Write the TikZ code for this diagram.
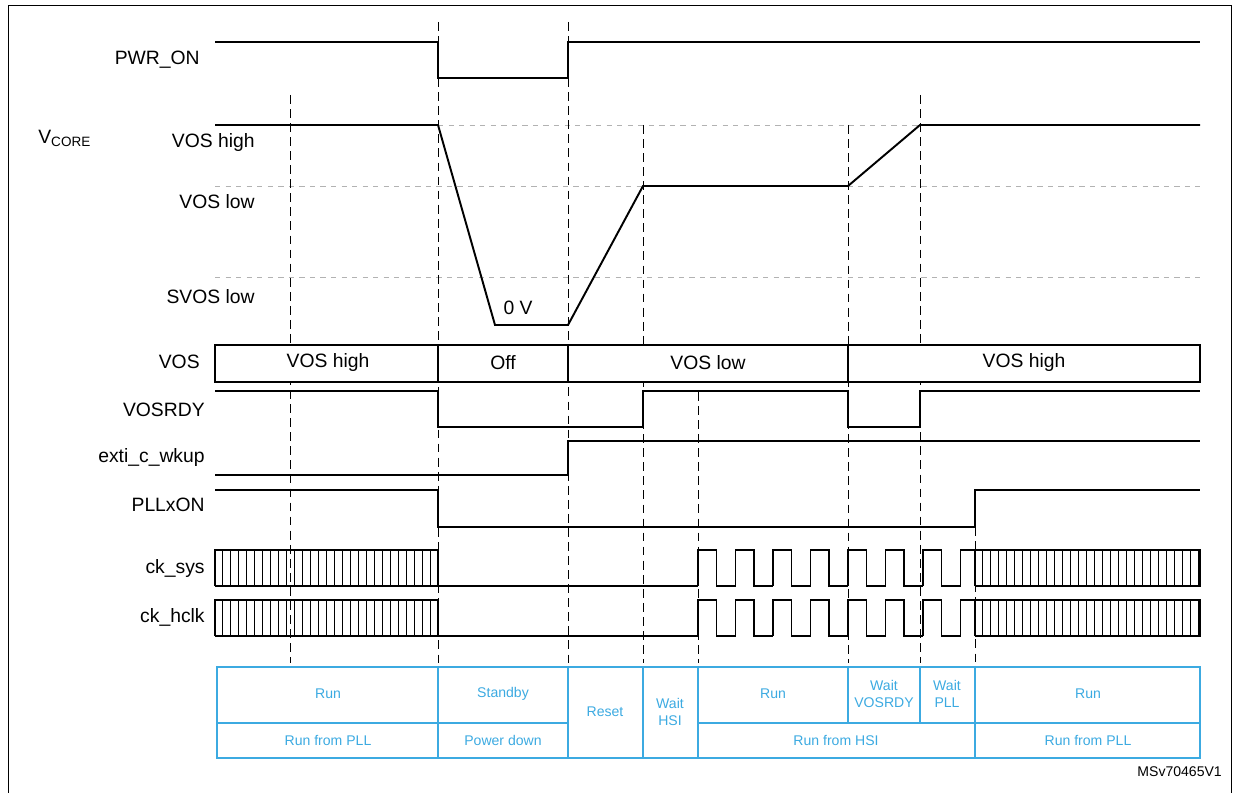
\documentclass[tikz,border=0pt]{standalone}
\usepackage{fontspec}
\setmainfont{Liberation Sans}
\usetikzlibrary{positioning}
\definecolor{tabblue}{RGB}{60,170,225}
\begin{document}
\begin{tikzpicture}[x=0.02cm,y=-0.02cm]
	\tikzstyle{sig}=[line width=1.1pt,black]
	\tikzstyle{tmark}=[thin,black,dash pattern=on 5pt off 3pt]
	\tikzstyle{level}=[dashed,gray!60,very thin]
	\tikzstyle{lbl}=[anchor=east,font=\fontsize{11}{13}\selectfont,inner sep=0pt]
	\tikzstyle{bus}=[font=\fontsize{11}{13}\selectfont]
	\tikzstyle{cell}=[draw=tabblue,line width=.8pt]
	\tikzstyle{celltxt}=[text=tabblue,font=\fontsize{8}{9.5}\selectfont,align=center]

	\useasboundingbox (0,0) rectangle (1239,793);
	\draw[thin] (8,5) rectangle (1231,800);

	% level guides
	\draw[level] (438,125) -- (1200,125);
	\draw[level] (215,186) -- (1200,186);
	\draw[level] (215,277) -- (1200,277);

	% time marks
	\draw[tmark] (290,95) -- (290,663);
	\draw[tmark] (438,22) -- (438,663);
	\draw[tmark] (568,22) -- (568,663);
	\draw[tmark] (643,125) -- (643,663);
	\draw[tmark] (698,392) -- (698,663);
	\draw[tmark] (848,125) -- (848,663);
	\draw[tmark] (920,95) -- (920,663);
	\draw[tmark] (975,527) -- (975,663);

	% labels
	\node[lbl] (pwr) at (200,60) {PWR\_ON};
	\node[anchor=west,font=\fontsize{11}{13}\selectfont,inner sep=0pt] (vcore) at (38,138) {V\textsubscript{CORE}};
	\node[lbl] (vhi) at (255,143) {VOS high};
	\node[lbl] (vlo) at (255,202) {VOS low};
	\node[lbl] (svlo) at (255,297) {SVOS low};
	\node[lbl] (vos) at (200,362) {VOS};
	\node[lbl] (rdy) at (205,410) {VOSRDY};
	\node[lbl] (exti) at (205,458) {exti\_c\_wkup};
	\node[lbl] (pll) at (205,505) {PLLxON};
	\node[lbl] (cks) at (205,568) {ck\_sys};
	\node[lbl] (ckh) at (205,617) {ck\_hclk};

	% PWR_ON
	\draw[sig] (215,42) -- (438,42) -- (438,78) -- (568,78) -- (568,42) -- (1200,42);
	% VCORE
	\draw[sig] (215,125) -- (438,125) -- (495,325) -- (568,325) -- (643,186)
		-- (848,186) -- (920,125) -- (1200,125);
	\node[bus] (zero) at (518,308) {0 V};
	% VOS bus
	\draw[sig,fill=white] (215,345) rectangle (1200,382);
	\foreach \x in {438,568,848} \draw[sig] (\x,345) -- (\x,382);
	\node[bus] (v1) at (328,363) {VOS high};
	\node[bus] (v2) at (503,363) {Off};
	\node[bus] (v3) at (708,363) {VOS low};
	\node[bus] (v4) at (1024,363) {VOS high};
	% VOSRDY
	\draw[sig] (215,391) -- (438,391) -- (438,427) -- (643,427) -- (643,391) -- (848,391)
		-- (848,427) -- (920,427) -- (920,391) -- (1200,391);
	% exti_c_wkup
	\draw[sig] (215,475) -- (568,475) -- (568,441) -- (1200,441);
	% PLLxON
	\draw[sig] (215,490) -- (438,490) -- (438,527) -- (975,527) -- (975,490) -- (1200,490);

	% clocks
	\foreach \t/\b in {550/586,600/636}{
		\draw[sig] (215,\b) -- (215,\t) -- (438,\t) -- (438,\b) -- (215,\b);
		\foreach \x in {222,230,...,436} \draw[thin] (\x,\t) -- (\x,\b);
		\draw[sig] (975,\b) -- (975,\t) -- (1200,\t) -- (1200,\b) -- (975,\b);
		\foreach \x in {982,990,...,1198} \draw[thin] (\x,\t) -- (\x,\b);
		\draw[sig] (438,\b) -- (698,\b);
		\foreach \x in {698,735.5,773,810.5,848,885.5,923}
			\draw[sig] (\x,\b) -- (\x,\t) -- (\x+18.5,\t) -- (\x+18.5,\b) -- (\x+37.5,\b);
		\draw[sig] (960.5,\b) -- (960.5,\t) -- (975,\t);
	}

	% state table
	\draw[cell] (217,667) rectangle (1200,758);
	\draw[cell] (217,723) -- (568,723);
	\draw[cell] (698,723) -- (1200,723);
	\foreach \x in {438,568,643,698,975} \draw[cell] (\x,667) -- (\x,758);
	\foreach \x in {848,920} \draw[cell] (\x,667) -- (\x,723);
	\node[celltxt] (s1) at (328,694) {Run};
	\node[celltxt] (s2) at (503,694) {Standby};
	\node[celltxt] (s3) at (605,712) {Reset};
	\node[celltxt] (s4) at (670,712) {Wait\\HSI};
	\node[celltxt] (s5) at (773,694) {Run};
	\node[celltxt] (s6) at (884,694) {Wait\\VOSRDY};
	\node[celltxt] (s7) at (947,694) {Wait\\PLL};
	\node[celltxt] (s8) at (1088,694) {Run};
	\node[celltxt] (m1) at (328,740) {Run from PLL};
	\node[celltxt] (m2) at (503,740) {Power down};
	\node[celltxt] (m3) at (836,740) {Run from HSI};
	\node[celltxt] (m4) at (1088,740) {Run from PLL};
	\node[font=\fontsize{8}{9.5}\selectfont,anchor=east] (id) at (1228,772) {MSv70465V1};
\end{tikzpicture}
\end{document}
